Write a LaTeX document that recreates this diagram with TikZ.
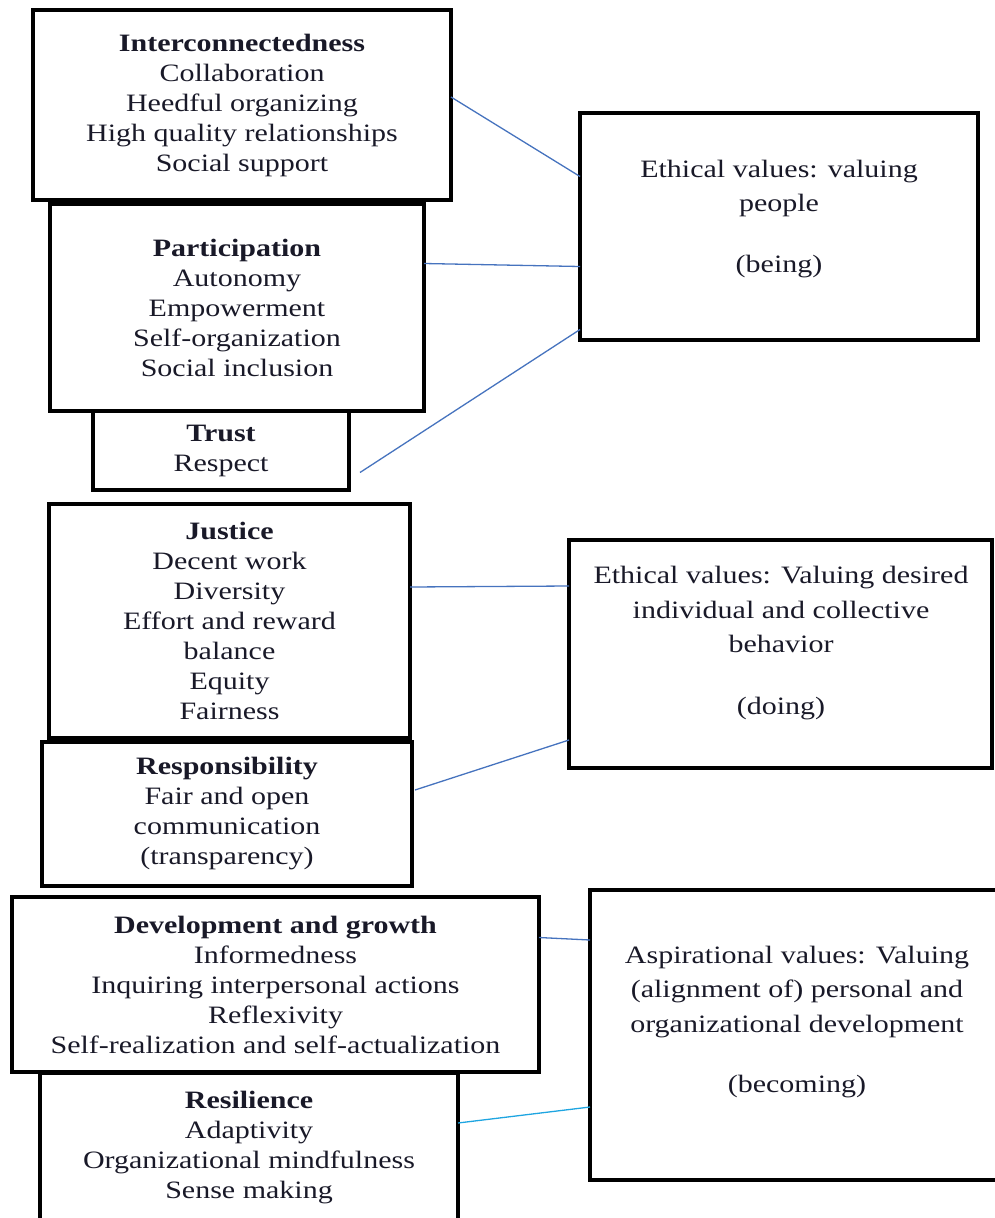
\documentclass[tikz,border=0pt]{standalone}
\usepackage{fontspec}
\setmainfont{Liberation Serif}[FakeStretch=1.2]
\definecolor{txt}{RGB}{25,25,40}
\definecolor{link}{RGB}{70,115,190}
\definecolor{linkb}{RGB}{30,165,225}
\begin{document}
\begin{tikzpicture}[x=1pt,y=-1pt,
  box/.style={draw=black,line width=3.3pt,inner sep=0pt,outer sep=0pt},
  lbox/.style={box,align=center,text=txt,font=\fontsize{25}{30}\selectfont},
  rtext/.style={align=center,text=txt,inner sep=0pt,font=\fontsize{25}{34.5}\selectfont},
  conn/.style={draw=link,line width=1.3pt}]
\useasboundingbox (0,0) rectangle (994,1218);
% left boxes
\node[lbox,minimum width=418,minimum height=190] (inter) at (242,105)
 {\textbf{Interconnectedness}\\Collaboration\\Heedful organizing\\High quality relationships\\Social support};
\node[lbox,minimum width=374,minimum height=207] (part) at (237,307.5)
 {\textbf{Participation}\\Autonomy\\Empowerment\\Self-organization\\Social inclusion};
\node[lbox,minimum width=256,minimum height=79] (trust) at (221,450.5)
 {\textbf{Trust}\\Respect};
\node[lbox,minimum width=361,minimum height=234] (just) at (229.5,621)
 {\textbf{Justice}\\Decent work\\Diversity\\Effort and reward\\balance\\Equity\\Fairness};
\node[lbox,minimum width=370,minimum height=144] (resp) at (227,814)
 {\textbf{Responsibility}\\Fair and open\\communication\\(transparency)};
\node[lbox,minimum width=527,minimum height=175] (dev) at (275.5,984.5)
 {\textbf{Development and growth}\\Informedness\\Inquiring interpersonal actions\\Reflexivity\\Self-realization and self-actualization};
\node[lbox,minimum width=418,minimum height=150] (resil) at (249,1148)
 {\textbf{Resilience}\\Adaptivity\\Organizational mindfulness\\Sense making};
% right boxes
\node[box,minimum width=398,minimum height=227] (eth1) at (779,226.5) {};
\node[rtext] (eth1t) at (779,219) {Ethical values: valuing\\people\\[26pt](being)};
\node[box,minimum width=423,minimum height=228] (eth2) at (780.5,654) {};
\node[rtext] (eth2t) at (781,643) {Ethical values: Valuing desired\\individual and collective\\behavior\\[27pt](doing)};
\node[box,minimum width=420,minimum height=290] (asp) at (800,1035) {};
\node[rtext] (aspt) at (797,1022) {Aspirational values: Valuing\\(alignment of) personal and\\organizational development\\[26pt](becoming)};
% connectors
\draw[conn] ([yshift=8pt]inter.east) -- ([yshift=50pt]eth1.west);
\draw[conn] ([yshift=44pt]part.east) -- ([yshift=-40pt]eth1.west);
\draw[conn] ([xshift=11pt,yshift=-22pt]trust.east) -- ([yshift=-103pt]eth1.west);
\draw[conn] ([yshift=34pt]just.east) -- ([yshift=68pt]eth2.west);
\draw[conn] ([xshift=3pt,yshift=24pt]resp.east) -- ([yshift=-86pt]eth2.west);
\draw[conn] ([yshift=47pt]dev.east) -- ([yshift=95pt]asp.west);
\draw[draw=linkb,line width=1.3pt] ([yshift=25pt]resil.east) -- ([yshift=-72pt]asp.west);
\end{tikzpicture}
\end{document}
